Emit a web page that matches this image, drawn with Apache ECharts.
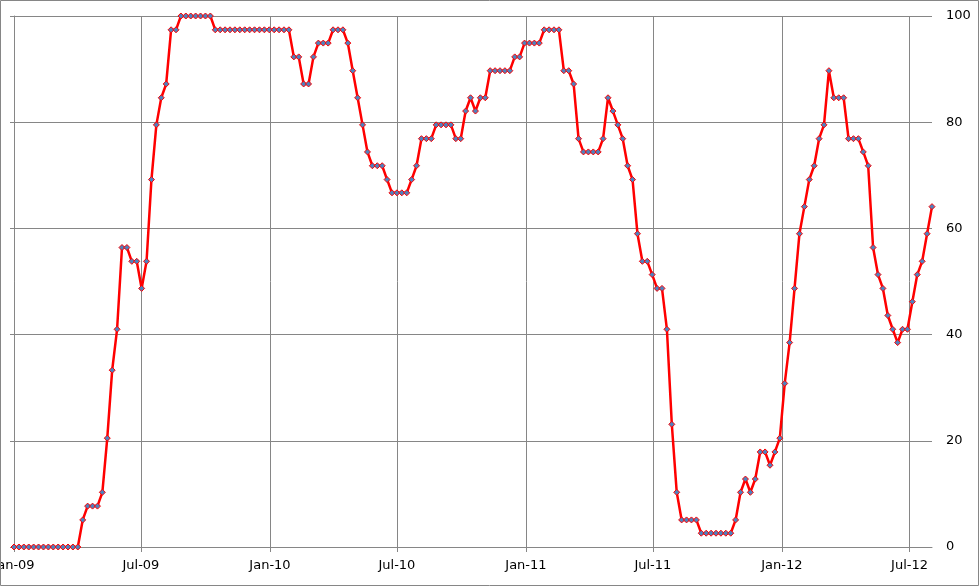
<!DOCTYPE html>
<html>
<head>
<meta charset="utf-8">
<script src="https://cdn.jsdelivr.net/npm/echarts@6/dist/echarts.min.js"></script>
<style>
html,body{margin:0;padding:0;background:#fff;}
#chart{width:980px;height:587px;}
</style>
</head>
<body>
<div id="chart"></div>
<script>
// Weekly series starting at this date
const startDate = [2009, 0, 1];
const weekMs = 7 * 86400000;

// Series values (percent), one per week
const values = [
  0,0,0,0,0,0,0,0,0,0,0,0,0,0,
  5.1,7.7,7.7,7.7,10.3,20.5,33.3,41.0,
  56.4,56.4,53.8,53.8,48.7,53.8,69.2,79.5,84.6,87.2,97.4,97.4,
  100,100,100,100,100,100,100,
  97.4,97.4,97.4,97.4,97.4,97.4,97.4,97.4,97.4,97.4,97.4,97.4,97.4,97.4,97.4,97.4,
  92.3,92.3,87.2,87.2,92.3,94.9,94.9,94.9,97.4,97.4,97.4,94.9,89.7,84.6,79.5,74.4,
  71.8,71.8,71.8,69.2,66.7,66.7,66.7,66.7,69.2,71.8,
  76.9,76.9,76.9,79.5,79.5,79.5,79.5,76.9,76.9,82.1,84.6,82.1,84.6,84.6,
  89.7,89.7,89.7,89.7,89.7,
  92.3,92.3,94.9,94.9,94.9,94.9,97.4,97.4,97.4,97.4,
  89.7,89.7,87.2,76.9,74.4,74.4,74.4,74.4,76.9,84.6,82.1,79.5,76.9,71.8,69.2,59.0,
  53.8,53.8,51.3,48.7,48.7,41.0,23.1,10.3,
  5.1,5.1,5.1,5.1,
  2.6,2.6,2.6,2.6,2.6,2.6,2.6,
  5.1,10.3,12.8,10.3,12.8,17.9,17.9,15.4,17.9,20.5,30.8,38.5,48.7,59.0,64.1,69.2,71.8,76.9,79.5,89.7,
  84.6,84.6,84.6,76.9,76.9,76.9,74.4,71.8,56.4,51.3,48.7,43.6,41.0,38.5,41.0,41.0,46.2,51.3,53.8,59.0,64.1
];

// X tick positions and labels
const tickDates = [[2009,0,1],[2009,6,1],[2010,0,1],[2010,6,1],[2011,0,1],[2011,6,1],[2012,0,1],[2012,6,1]];
const tickLabels = ['Jan-09','Jul-09','Jan-10','Jul-10','Jan-11','Jul-11','Jan-12','Jul-12'];

// Y ticks
const yMin = 0, yMax = 100, yStep = 20;

const t0 = Date.UTC(startDate[0], startDate[1], startDate[2]);
const data = values.map((v, i) => [t0 + i * weekMs, v]);
const tickTs = tickDates.map(d => Date.UTC(d[0], d[1], d[2]));

const gridColor = '#868686';
const font = 'DejaVu Sans';

const chart = echarts.init(document.getElementById('chart'), null, {renderer: 'canvas'});
chart.setOption({
  animation: false,
  backgroundColor: '#fff',
  grid: {left: 14, right: 48, top: 16, bottom: 40, containLabel: false, outerBoundsMode: 'none'},
  graphic: [{
    type: 'rect', shape: {x: 0.5, y: 0.5, width: 978, height: 585},
    style: {fill: 'none', stroke: gridColor, lineWidth: 1}, silent: true, z: 100
  }],
  xAxis: {
    type: 'value',
    min: t0,
    max: data[data.length - 1][0],
    axisLine: {show: true, onZero: false, lineStyle: {color: gridColor, width: 1}},
    axisTick: {show: true, inside: false, length: 5, lineStyle: {color: gridColor}, customValues: tickTs},
    splitLine: {show: true, lineStyle: {color: gridColor, width: 1}},
    axisLabel: {
      customValues: tickTs,
      margin: 12,
      color: '#000',
      fontFamily: font,
      fontSize: 13,
      hideOverlap: false,
      formatter: function (v) {
        const idx = tickTs.indexOf(v);
        return idx >= 0 ? tickLabels[idx] : '';
      }
    }
  },
  yAxis: [{
    type: 'value', position: 'left',
    min: yMin, max: yMax, interval: yStep,
    axisLine: {show: true, lineStyle: {color: gridColor}},
    axisTick: {show: true, inside: false, length: 4, lineStyle: {color: gridColor}},
    axisLabel: {show: false},
    splitLine: {show: true, lineStyle: {color: gridColor, width: 1}}
  }, {
    type: 'value', position: 'right',
    min: yMin, max: yMax, interval: yStep,
    axisLine: {show: false},
    axisTick: {show: false},
    splitLine: {show: false},
    axisLabel: {show: true, margin: 14, color: '#000', fontFamily: font, fontSize: 13, align: 'left'}
  }],
  series: [{
    type: 'line',
    data: data,
    yAxisIndex: 0,
    showAllSymbol: true,
    symbol: 'diamond',
    symbolSize: 6,
    lineStyle: {color: '#FF0000', width: 2.5},
    itemStyle: {color: '#4F81BD', borderColor: '#FF0000', borderWidth: 1},
    z: 5
  }]
});
</script>
</body>
</html>
